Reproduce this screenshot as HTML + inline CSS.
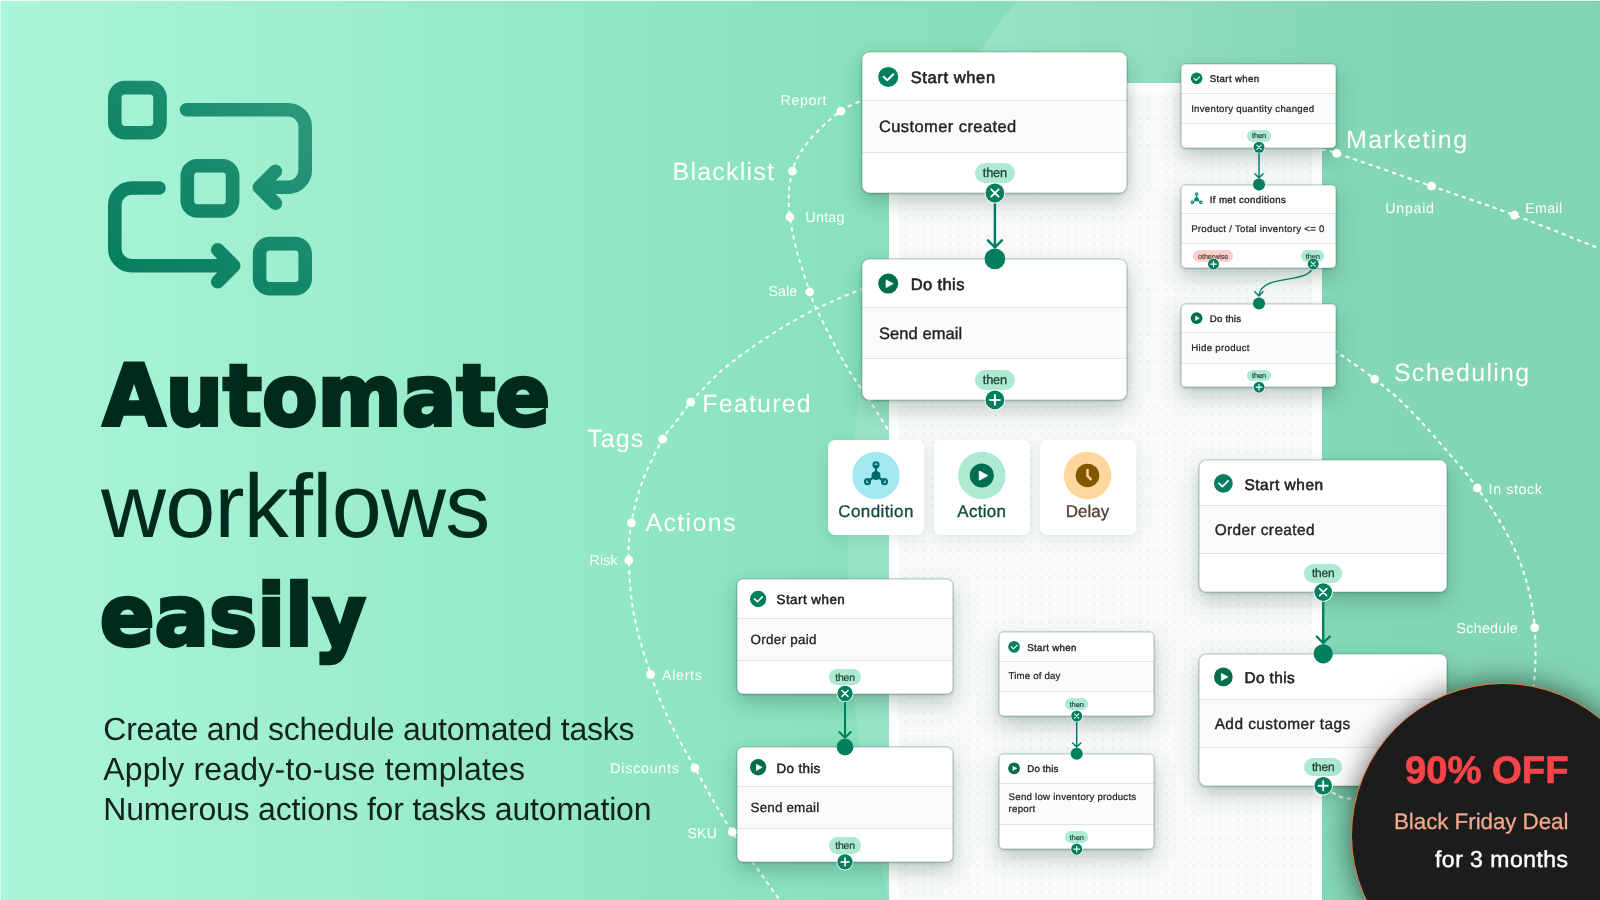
<!DOCTYPE html>
<html lang="en"><head><meta charset="utf-8"><title>Automate workflows easily</title>
<style>
html,body{margin:0;padding:0}
body{width:1600px;height:900px;overflow:hidden;position:relative;font-family:"Liberation Sans",sans-serif;background:#8ae2be}
#stage{position:absolute;left:0;top:0;width:1600px;height:900px;overflow:hidden;
 background:linear-gradient(90deg,#aaf5d9 0%,#9aedcb 25%,#8ae2be 50%,#84d9b6 75%,#82d5b3 100%)}
.t{position:absolute;white-space:nowrap;line-height:1;text-rendering:geometricPrecision;will-change:opacity}
svg{position:absolute;left:0;top:0;overflow:visible}
.panel{position:absolute;left:889px;top:83px;width:433px;height:830px;background:#fff}
.grid{position:absolute;left:10px;top:10px;right:10px;bottom:0;background-color:#f8fafa;
 background-image:radial-gradient(circle,#e4eae9 0.7px,rgba(228,234,233,0) 1.3px);background-size:9px 9px;background-position:2px 3px}
.card{position:absolute;background:#fff;box-shadow:0 0 0 .5px rgba(50,100,85,.34),0 1px 3px rgba(0,50,35,.22),0 9px 20px rgba(10,60,45,.25);overflow:hidden}
.card:after{content:'';position:absolute;left:0;top:0;right:0;bottom:0;border-radius:inherit;box-shadow:inset 0 0 0 .6px rgba(50,100,85,.34)}
.mid{position:absolute;left:0;right:0;background:#fafbfb;border-top:1px solid #e1e5e4;border-bottom:1px solid #e1e5e4;box-sizing:border-box}
.pill{position:absolute}
.tile{position:absolute;background:#fff;border-radius:7px;box-shadow:0 4px 14px rgba(0,50,35,.10)}
.badge{position:absolute;border-radius:50%;background:#1c1c1c;border:1.6px solid #f0773a;box-sizing:border-box;box-shadow:0 0 30px rgba(0,0,0,.6)}
</style></head><body><div id="stage">

<svg width="1600" height="900" viewBox="0 0 1600 900"><defs><linearGradient id="lg1" x1="0" y1="0" x2="1" y2="0"><stop offset="0" stop-color="#fff" stop-opacity=".17"/><stop offset=".3" stop-color="#fff" stop-opacity=".11"/><stop offset=".6" stop-color="#fff" stop-opacity="0"/></linearGradient><linearGradient id="lg2" x1="0" y1="0" x2="1" y2="0"><stop offset="0" stop-color="#fff" stop-opacity="0"/><stop offset="1" stop-color="#fff" stop-opacity=".16"/></linearGradient><linearGradient id="logo" gradientUnits="userSpaceOnUse" x1="108" y1="296" x2="312" y2="81"><stop offset="0" stop-color="#057c5b"/><stop offset=".5" stop-color="#15896a"/><stop offset="1" stop-color="#319b7e"/></linearGradient></defs><path d="M1019 0C1000 20 975 55 940 120L940 260L1600 260L1600 0Z" fill="url(#lg1)"/><path d="M889 290L874 290C860 370 848 470 848 580C848 700 868 820 889 900Z" fill="#fff" fill-opacity=".13"/></svg>
<svg width="1600" height="900" viewBox="0 0 1600 900"><path d="M866.7 98.2C862.4 100.4 849.4 105.3 840.9 111.1C832.4 117.0 822.4 126.3 815.6 133.3C808.7 140.4 803.9 147.0 800.0 153.3C796.1 159.6 794.3 164.4 792.4 171.1C790.6 177.8 789.3 185.7 788.9 193.3C788.4 201.0 788.7 208.0 789.8 216.9C790.9 225.8 793.5 238.0 795.6 246.7C797.6 255.3 799.9 261.3 802.2 268.9C804.6 276.4 807.5 285.5 809.8 292.0C812.1 298.5 812.6 300.7 816.0 308.0C819.4 315.3 825.2 326.7 830.0 336.0C834.8 345.3 840.0 355.5 845.0 364.0C850.0 372.5 856.0 381.0 860.0 387.0C864.0 393.0 865.8 395.2 869.0 400.0C872.2 404.8 875.5 410.1 879.0 415.5C882.5 420.9 888.2 429.7 890.0 432.5" fill="none" stroke="#fff" stroke-width="2" stroke-dasharray="4.2 4" stroke-linecap="butt"/><path d="M864.0 288.3C860.0 289.9 847.3 294.9 840.0 298.0C832.7 301.1 826.7 303.8 820.0 307.0C813.3 310.2 806.7 313.7 800.0 317.4C793.3 321.1 786.7 324.9 780.0 329.0C773.3 333.1 766.7 337.5 760.0 342.0C753.3 346.5 746.7 351.0 740.0 356.0C733.3 361.0 726.0 366.7 720.0 372.0C714.0 377.3 708.9 383.0 704.0 388.0C699.1 393.0 695.1 396.8 690.6 402.2C686.1 407.6 681.6 414.3 677.0 420.5C672.4 426.7 668.4 429.3 662.7 439.2C657.0 449.1 648.2 466.1 643.0 480.0C637.8 493.9 633.8 509.5 631.4 522.9C629.0 536.3 628.4 544.9 628.8 560.2C629.2 575.6 630.4 596.0 634.0 615.0C637.6 634.0 644.6 656.5 650.6 674.3C656.6 692.1 662.6 706.4 670.0 722.0C677.4 737.6 684.5 749.8 694.9 768.1C705.3 786.4 717.9 809.7 732.2 832.0C746.6 854.3 772.9 890.3 781.0 902.0" fill="none" stroke="#fff" stroke-width="2" stroke-dasharray="4.2 4" stroke-linecap="butt"/><path d="M1322.0 150.0C1324.5 150.6 1318.4 147.3 1336.7 153.3C1355.0 159.3 1402.0 175.9 1431.6 186.2C1461.2 196.5 1486.0 204.5 1514.4 215.1C1542.8 225.7 1587.4 243.8 1602.0 249.5" fill="none" stroke="#fff" stroke-width="2" stroke-dasharray="4.2 4" stroke-linecap="butt"/><path d="M1334.0 350.0C1340.8 354.9 1362.2 369.3 1374.7 379.1C1387.2 388.9 1396.5 396.5 1408.9 408.9C1421.3 421.3 1437.5 440.1 1448.9 453.3C1460.3 466.5 1467.7 474.7 1477.3 488.0C1486.9 501.3 1498.7 518.3 1506.7 533.3C1514.7 548.3 1520.6 562.1 1525.3 577.8C1530.0 593.5 1533.4 608.9 1534.7 627.6C1536.0 646.3 1536.3 667.9 1533.0 690.0C1529.7 712.1 1530.5 741.7 1515.0 760.0C1499.5 778.3 1466.7 793.5 1440.0 800.0C1413.3 806.5 1372.5 800.0 1355.0 799.0C1337.5 798.0 1340.3 796.2 1335.0 794.0C1329.7 791.8 1325.0 787.3 1323.0 786.0" fill="none" stroke="#fff" stroke-width="2" stroke-dasharray="4.2 4" stroke-linecap="butt"/></svg>
<div class="panel"><div class="grid"></div></div>
<span class="t" style="left:780.60px;top:94.00px;font-size:14.2px;color:#fff;letter-spacing:0.630px;">Report</span>
<span class="t" style="left:672.50px;top:160.00px;font-size:25px;color:#fff;letter-spacing:1.212px;">Blacklist</span>
<span class="t" style="left:805.50px;top:211.00px;font-size:14.2px;color:#fff;letter-spacing:0.262px;">Untag</span>
<span class="t" style="left:768.60px;top:285.00px;font-size:14.2px;color:#fff;letter-spacing:0.045px;">Sale</span>
<span class="t" style="left:702.30px;top:392.00px;font-size:25px;color:#fff;letter-spacing:1.192px;">Featured</span>
<span class="t" style="left:587.20px;top:427.00px;font-size:25px;color:#fff;letter-spacing:1.098px;">Tags</span>
<span class="t" style="left:645.60px;top:511.00px;font-size:25px;color:#fff;letter-spacing:1.302px;">Actions</span>
<span class="t" style="left:589.60px;top:554.00px;font-size:14.2px;color:#fff;letter-spacing:0.173px;">Risk</span>
<span class="t" style="left:662.00px;top:669.00px;font-size:14.2px;color:#fff;letter-spacing:0.717px;">Alerts</span>
<span class="t" style="left:610.30px;top:762.00px;font-size:14.2px;color:#fff;letter-spacing:0.784px;">Discounts</span>
<span class="t" style="left:687.60px;top:827.00px;font-size:14.2px;color:#fff;letter-spacing:0.067px;">SKU</span>
<span class="t" style="left:1345.90px;top:128.00px;font-size:25px;color:#fff;letter-spacing:1.426px;">Marketing</span>
<span class="t" style="left:1385.30px;top:202.00px;font-size:14.2px;color:#fff;letter-spacing:0.750px;">Unpaid</span>
<span class="t" style="left:1525.30px;top:202.00px;font-size:14.2px;color:#fff;letter-spacing:0.339px;">Email</span>
<span class="t" style="left:1393.90px;top:361.00px;font-size:25px;color:#fff;letter-spacing:1.289px;">Scheduling</span>
<span class="t" style="left:1488.60px;top:483.00px;font-size:14.2px;color:#fff;letter-spacing:0.621px;">In stock</span>
<span class="t" style="left:1456.60px;top:622.00px;font-size:14.2px;color:#fff;letter-spacing:0.286px;">Schedule</span>
<svg width="1600" height="900" viewBox="0 0 1600 900"><g><rect x="114.80" y="87.60" width="45.20" height="45.20" rx="10.2" fill="none" stroke="url(#logo)" stroke-width="13.6"/><rect x="187.30" y="165.80" width="45.30" height="45.20" rx="10.2" fill="none" stroke="url(#logo)" stroke-width="13.6"/><rect x="259.60" y="243.60" width="45.60" height="45.20" rx="10.2" fill="none" stroke="url(#logo)" stroke-width="13.6"/><path d="M186.5 109.7H288.2A17 17 0 0 1 305.2 126.7V170.2A17 17 0 0 1 288.2 187.2H259.6M275.4 171.2L259.4 187.2L275.4 203.2" fill="none" stroke="url(#logo)" stroke-width="13.6" stroke-linecap="round" stroke-linejoin="round"/><path d="M159 188H131.8A17 17 0 0 0 114.8 205V248.7A17 17 0 0 0 131.8 265.7H233.5M217.7 249.7L233.7 265.7L217.7 281.7" fill="none" stroke="url(#logo)" stroke-width="13.6" stroke-linecap="round" stroke-linejoin="round"/></g></svg>
<span class="t" style="left:103.00px;top:354.00px;font-size:84.5px;color:#012a1f;transform-origin:0 0;transform:scaleX(0.9505);font-weight:700;font-family:'DejaVu Sans','Liberation Sans',sans-serif;letter-spacing:0.5px;-webkit-text-stroke:4px #012a1f;">Automate</span>
<span class="t" style="left:101.00px;top:462.00px;font-size:90px;color:#012a1f;letter-spacing:-0.730px;">workflows</span>
<span class="t" style="left:100.40px;top:574.00px;font-size:84.5px;color:#012a1f;transform-origin:0 0;transform:scaleX(0.9477);font-weight:700;font-family:'DejaVu Sans','Liberation Sans',sans-serif;letter-spacing:0.5px;-webkit-text-stroke:4px #012a1f;">easily</span>
<span class="t" style="left:103.30px;top:713.00px;font-size:32px;color:#15231e;letter-spacing:-0.229px;">Create and schedule automated tasks</span>
<span class="t" style="left:103.30px;top:753.00px;font-size:32px;color:#15231e;letter-spacing:0.207px;">Apply ready-to-use templates</span>
<span class="t" style="left:103.30px;top:793.00px;font-size:32px;color:#15231e;letter-spacing:-0.187px;">Numerous actions for tasks automation</span>
<div class="tile" style="left:828px;top:439.8px;width:96px;height:95.4px"></div>
<div class="tile" style="left:933.8px;top:439.8px;width:96px;height:95.4px"></div>
<div class="tile" style="left:1039.5px;top:439.8px;width:96px;height:95.4px"></div>
<span class="t" style="left:838.25px;top:503.00px;font-size:17px;color:#12493f;letter-spacing:0.408px;-webkit-text-stroke:0.3px #12493f;">Condition</span>
<span class="t" style="left:957.30px;top:503.00px;font-size:17px;color:#0f4a38;letter-spacing:0.292px;-webkit-text-stroke:0.3px #0f4a38;">Action</span>
<span class="t" style="left:1065.75px;top:503.00px;font-size:17px;color:#563a2e;letter-spacing:0.007px;-webkit-text-stroke:0.3px #563a2e;">Delay</span>
<div class="card" style="left:862.20px;top:52.20px;width:265.00px;height:141.20px;border-radius:7.50px"><div class="mid" style="top:48.20px;height:52.40px"></div></div>
<span class="t" style="left:910.70px;top:70.00px;font-size:16.5px;color:#202223;letter-spacing:0.613px;-webkit-text-stroke:0.60px #202223;">Start when</span>
<span class="t" style="left:878.90px;top:119.00px;font-size:16.5px;color:#202223;letter-spacing:0.416px;-webkit-text-stroke:0.38px #202223;">Customer created</span>
<div class="pill" style="left:974.90px;top:163.10px;width:40.00px;height:20.00px;border-radius:10.00px;background:#aee9d1"></div>
<span class="t" style="left:982.82px;top:167.00px;font-size:12.8px;color:#1f4237;letter-spacing:-0.187px;-webkit-text-stroke:0.30px #1f4237;">then</span>
<div class="card" style="left:862.20px;top:258.90px;width:265.00px;height:141.20px;border-radius:7.50px"><div class="mid" style="top:48.20px;height:52.40px"></div></div>
<span class="t" style="left:910.70px;top:277.00px;font-size:16.5px;color:#202223;letter-spacing:0.392px;-webkit-text-stroke:0.60px #202223;">Do this</span>
<span class="t" style="left:878.90px;top:326.00px;font-size:16.5px;color:#202223;letter-spacing:0.075px;-webkit-text-stroke:0.38px #202223;">Send email</span>
<div class="pill" style="left:974.90px;top:369.80px;width:40.00px;height:20.00px;border-radius:10.00px;background:#aee9d1"></div>
<span class="t" style="left:982.82px;top:374.00px;font-size:12.8px;color:#1f4237;letter-spacing:-0.187px;-webkit-text-stroke:0.30px #1f4237;">then</span>
<div class="card" style="left:1199.00px;top:460.30px;width:248.04px;height:132.16px;border-radius:7.02px"><div class="mid" style="top:45.12px;height:49.05px"></div></div>
<span class="t" style="left:1244.40px;top:478.00px;font-size:15.444px;color:#202223;letter-spacing:0.557px;-webkit-text-stroke:0.56px #202223;">Start when</span>
<span class="t" style="left:1214.63px;top:523.00px;font-size:15.444px;color:#202223;letter-spacing:0.394px;-webkit-text-stroke:0.36px #202223;">Order created</span>
<div class="pill" style="left:1304.49px;top:564.10px;width:37.44px;height:18.72px;border-radius:9.36px;background:#aee9d1"></div>
<span class="t" style="left:1311.90px;top:567.00px;font-size:11.980800000000002px;color:#1f4237;letter-spacing:-0.175px;-webkit-text-stroke:0.28px #1f4237;">then</span>
<div class="card" style="left:1199.00px;top:653.77px;width:248.04px;height:132.16px;border-radius:7.02px"><div class="mid" style="top:45.12px;height:49.05px"></div></div>
<span class="t" style="left:1244.40px;top:671.00px;font-size:15.444px;color:#202223;letter-spacing:0.376px;-webkit-text-stroke:0.56px #202223;">Do this</span>
<span class="t" style="left:1214.63px;top:717.00px;font-size:15.444px;color:#202223;letter-spacing:0.437px;-webkit-text-stroke:0.36px #202223;">Add customer tags</span>
<div class="pill" style="left:1304.49px;top:757.57px;width:37.44px;height:18.72px;border-radius:9.36px;background:#aee9d1"></div>
<span class="t" style="left:1311.90px;top:761.00px;font-size:11.980800000000002px;color:#1f4237;letter-spacing:-0.175px;-webkit-text-stroke:0.28px #1f4237;">then</span>
<div class="card" style="left:737.00px;top:578.90px;width:215.71px;height:114.94px;border-radius:6.10px"><div class="mid" style="top:39.23px;height:42.65px"></div></div>
<span class="t" style="left:776.48px;top:593.00px;font-size:13.431px;color:#202223;letter-spacing:0.460px;-webkit-text-stroke:0.49px #202223;">Start when</span>
<span class="t" style="left:750.59px;top:633.00px;font-size:13.431px;color:#202223;letter-spacing:0.274px;-webkit-text-stroke:0.31px #202223;">Order paid</span>
<div class="pill" style="left:828.74px;top:669.17px;width:32.56px;height:16.28px;border-radius:8.14px;background:#aee9d1"></div>
<span class="t" style="left:835.18px;top:674.00px;font-size:10.4192px;color:#1f4237;letter-spacing:-0.152px;-webkit-text-stroke:0.24px #1f4237;">then</span>
<div class="card" style="left:737.00px;top:747.15px;width:215.71px;height:114.94px;border-radius:6.10px"><div class="mid" style="top:39.23px;height:42.65px"></div></div>
<span class="t" style="left:776.48px;top:762.00px;font-size:13.431px;color:#202223;letter-spacing:0.343px;-webkit-text-stroke:0.49px #202223;">Do this</span>
<span class="t" style="left:750.59px;top:801.00px;font-size:13.431px;color:#202223;letter-spacing:0.161px;-webkit-text-stroke:0.31px #202223;">Send email</span>
<div class="pill" style="left:828.74px;top:837.43px;width:32.56px;height:16.28px;border-radius:8.14px;background:#aee9d1"></div>
<span class="t" style="left:835.18px;top:842.00px;font-size:10.4192px;color:#1f4237;letter-spacing:-0.152px;-webkit-text-stroke:0.24px #1f4237;">then</span>
<div class="card" style="left:998.80px;top:632.30px;width:155.55px;height:83.94px;border-radius:4.40px"><div class="mid" style="top:28.82px;height:31.23px"></div></div>
<span class="t" style="left:1027.27px;top:644.00px;font-size:9.6855px;color:#202223;letter-spacing:0.310px;-webkit-text-stroke:0.35px #202223;">Start when</span>
<span class="t" style="left:1008.60px;top:672.00px;font-size:9.6855px;color:#202223;letter-spacing:0.160px;-webkit-text-stroke:0.22px #202223;">Time of day</span>
<div class="pill" style="left:1064.95px;top:698.45px;width:23.48px;height:11.74px;border-radius:5.87px;background:#aee9d1"></div>
<span class="t" style="left:1069.60px;top:701.00px;font-size:7.5136px;color:#1f4237;letter-spacing:-0.110px;-webkit-text-stroke:0.18px #1f4237;">then</span>
<div class="card" style="left:998.80px;top:753.81px;width:155.55px;height:95.45px;border-radius:4.40px"><div class="mid" style="top:28.82px;height:42.73px"></div></div>
<span class="t" style="left:1027.27px;top:765.00px;font-size:9.6855px;color:#202223;letter-spacing:0.151px;-webkit-text-stroke:0.35px #202223;">Do this</span>
<span class="t" style="left:1008.60px;top:793.00px;font-size:9.6855px;color:#202223;letter-spacing:0.234px;-webkit-text-stroke:0.22px #202223;">Send low inventory products</span>
<span class="t" style="left:1008.60px;top:805.00px;font-size:9.6855px;color:#202223;letter-spacing:0.266px;-webkit-text-stroke:0.22px #202223;">report</span>
<div class="pill" style="left:1064.95px;top:831.47px;width:23.48px;height:11.74px;border-radius:5.87px;background:#aee9d1"></div>
<span class="t" style="left:1069.60px;top:834.00px;font-size:7.5136px;color:#1f4237;letter-spacing:-0.110px;-webkit-text-stroke:0.18px #1f4237;">then</span>
<div class="card" style="left:1181.40px;top:63.90px;width:155.02px;height:83.66px;border-radius:4.39px"><div class="mid" style="top:28.72px;height:31.12px"></div></div>
<span class="t" style="left:1209.77px;top:75.00px;font-size:9.6525px;color:#202223;letter-spacing:0.366px;-webkit-text-stroke:0.35px #202223;">Start when</span>
<span class="t" style="left:1191.17px;top:105.00px;font-size:9.6525px;color:#202223;letter-spacing:0.284px;-webkit-text-stroke:0.22px #202223;">Inventory quantity changed</span>
<div class="pill" style="left:1247.33px;top:129.83px;width:23.40px;height:11.70px;border-radius:5.85px;background:#aee9d1"></div>
<span class="t" style="left:1251.96px;top:132.00px;font-size:7.4879999999999995px;color:#1f4237;letter-spacing:-0.109px;-webkit-text-stroke:0.18px #1f4237;">then</span>
<div class="card" style="left:1181.40px;top:184.60px;width:155.02px;height:83.66px;border-radius:4.39px"><div class="mid" style="top:28.72px;height:31.12px"></div></div>
<span class="t" style="left:1209.77px;top:196.00px;font-size:9.6525px;color:#202223;letter-spacing:0.366px;-webkit-text-stroke:0.35px #202223;">If met conditions</span>
<span class="t" style="left:1191.17px;top:225.00px;font-size:9.6525px;color:#202223;letter-spacing:0.277px;-webkit-text-stroke:0.22px #202223;">Product / Total inventory &lt;= 0</span>
<div class="card" style="left:1181.40px;top:303.70px;width:155.02px;height:83.66px;border-radius:4.39px"><div class="mid" style="top:28.72px;height:31.12px"></div></div>
<span class="t" style="left:1209.77px;top:315.00px;font-size:9.6525px;color:#202223;letter-spacing:0.208px;-webkit-text-stroke:0.35px #202223;">Do this</span>
<span class="t" style="left:1191.17px;top:344.00px;font-size:9.6525px;color:#202223;letter-spacing:0.339px;-webkit-text-stroke:0.22px #202223;">Hide product</span>
<div class="pill" style="left:1247.33px;top:369.63px;width:23.40px;height:11.70px;border-radius:5.85px;background:#aee9d1"></div>
<span class="t" style="left:1251.96px;top:372.00px;font-size:7.4879999999999995px;color:#1f4237;letter-spacing:-0.109px;-webkit-text-stroke:0.18px #1f4237;">then</span>
<div class="pill" style="left:1193.02px;top:250.41px;width:40.36px;height:11.70px;border-radius:5.85px;background:#fbd0cc"></div>
<span class="t" style="left:1198.02px;top:253.00px;font-size:7.3125px;color:#5a3a36;letter-spacing:-0.104px;-webkit-text-stroke:0.18px #5a3a36;">otherwise</span>
<div class="pill" style="left:1301.10px;top:250.41px;width:23.40px;height:11.70px;border-radius:5.85px;background:#aee9d1"></div>
<span class="t" style="left:1305.73px;top:253.00px;font-size:7.4879999999999995px;color:#1f4237;letter-spacing:-0.109px;-webkit-text-stroke:0.18px #1f4237;">then</span>
<svg width="1600" height="900" viewBox="0 0 1600 900"><circle cx="840.9" cy="111.1" r="4.4" fill="#fff"/><circle cx="792.4" cy="171.1" r="4.4" fill="#fff"/><circle cx="789.8" cy="216.9" r="4.4" fill="#fff"/><circle cx="809.8" cy="292.0" r="4.4" fill="#fff"/><circle cx="690.6" cy="402.2" r="4.4" fill="#fff"/><circle cx="662.7" cy="439.2" r="4.4" fill="#fff"/><circle cx="631.4" cy="522.9" r="4.4" fill="#fff"/><circle cx="628.8" cy="560.2" r="4.4" fill="#fff"/><circle cx="650.6" cy="674.3" r="4.4" fill="#fff"/><circle cx="694.9" cy="768.1" r="4.4" fill="#fff"/><circle cx="732.2" cy="832.0" r="4.4" fill="#fff"/><circle cx="1336.7" cy="153.3" r="4.4" fill="#fff"/><circle cx="1431.6" cy="186.2" r="4.4" fill="#fff"/><circle cx="1514.4" cy="215.1" r="4.4" fill="#fff"/><circle cx="1374.7" cy="379.1" r="4.4" fill="#fff"/><circle cx="1477.3" cy="488.0" r="4.4" fill="#fff"/><circle cx="1534.7" cy="627.6" r="4.4" fill="#fff"/><circle cx="876" cy="475.5" r="23.8" fill="#a4e8f2"/><line x1="876.00" y1="475.50" x2="876.00" y2="464.80" stroke="#006a68" stroke-width="2.20"/><line x1="876.00" y1="475.50" x2="867.50" y2="481.60" stroke="#006a68" stroke-width="2.20"/><line x1="876.00" y1="475.50" x2="884.50" y2="481.60" stroke="#006a68" stroke-width="2.20"/><circle cx="876.00" cy="475.50" r="4.50" fill="#006a68"/><circle cx="876.00" cy="464.80" r="2.55" fill="none" stroke="#006a68" stroke-width="2.10"/><circle cx="867.50" cy="481.60" r="2.55" fill="none" stroke="#006a68" stroke-width="2.10"/><circle cx="884.50" cy="481.60" r="2.55" fill="none" stroke="#006a68" stroke-width="2.10"/><circle cx="981.8" cy="475.5" r="23.8" fill="#aee9d1"/><circle cx="981.80" cy="475.50" r="12.00" fill="#006e52"/><polygon points="979.28,471.06 979.28,480.18 987.68,475.62" fill="#fff" stroke="#fff" stroke-width="0.96" stroke-linejoin="round"/><circle cx="1087.5" cy="475.5" r="23.8" fill="#ffd79d"/><circle cx="1087.5" cy="475.5" r="11.8" fill="#7e5700"/><path d="M1087.5 469.1V475.9L1091.4 479.9" fill="none" stroke="#ffd79d" stroke-width="2.4" stroke-linejoin="miter"/><circle cx="888.20" cy="76.90" r="10.00" fill="#007f5f"/><polyline points="883.60,76.80 887.20,80.30 893.30,74.30" fill="none" stroke="#fff" stroke-width="1.90" stroke-linecap="round" stroke-linejoin="round"/><circle cx="888.20" cy="283.60" r="10.00" fill="#006e47"/><polygon points="886.10,279.90 886.10,287.50 893.10,283.70" fill="#fff" stroke="#fff" stroke-width="0.80" stroke-linejoin="round"/><path d="M994.90 193.40V247.40M987.90 240.40L994.90 247.40L1001.90 240.40" fill="none" stroke="#007f5f" stroke-width="2.50" stroke-linecap="round" stroke-linejoin="round"/><circle cx="994.90" cy="193.00" r="10.38" fill="#fff"/><circle cx="994.90" cy="193.00" r="9.40" fill="#007f5f"/><path d="M991.18 189.28L998.62 196.72M998.62 189.28L991.18 196.72" stroke="#fff" stroke-width="1.76" stroke-linecap="round"/><circle cx="994.90" cy="258.90" r="10.30" fill="#007f5f"/><circle cx="994.90" cy="399.90" r="10.38" fill="#fff"/><circle cx="994.90" cy="399.90" r="9.40" fill="#007f5f"/><path d="M990.00 399.90H999.80M994.90 395.00V404.80" stroke="#fff" stroke-width="1.96" stroke-linecap="round"/><circle cx="1223.34" cy="483.42" r="9.36" fill="#007f5f"/><polyline points="1219.03,483.33 1222.40,486.60 1228.11,480.99" fill="none" stroke="#fff" stroke-width="1.78" stroke-linecap="round" stroke-linejoin="round"/><circle cx="1223.34" cy="676.89" r="9.36" fill="#006e47"/><polygon points="1221.37,673.43 1221.37,680.54 1227.92,676.98" fill="#fff" stroke="#fff" stroke-width="0.75" stroke-linejoin="round"/><path d="M1323.21 592.46V643.01M1316.66 636.46L1323.21 643.01L1329.76 636.46" fill="none" stroke="#007f5f" stroke-width="2.34" stroke-linecap="round" stroke-linejoin="round"/><circle cx="1323.21" cy="592.09" r="9.71" fill="#fff"/><circle cx="1323.21" cy="592.09" r="8.80" fill="#007f5f"/><path d="M1319.72 588.61L1326.69 595.57M1326.69 588.61L1319.72 595.57" stroke="#fff" stroke-width="1.65" stroke-linecap="round"/><circle cx="1323.21" cy="653.77" r="9.64" fill="#007f5f"/><circle cx="1323.21" cy="785.75" r="9.71" fill="#fff"/><circle cx="1323.21" cy="785.75" r="8.80" fill="#007f5f"/><path d="M1318.62 785.75H1327.79M1323.21 781.16V790.33" stroke="#fff" stroke-width="1.83" stroke-linecap="round"/><circle cx="758.16" cy="599.01" r="8.14" fill="#007f5f"/><polyline points="754.42,598.92 757.35,601.77 762.32,596.89" fill="none" stroke="#fff" stroke-width="1.55" stroke-linecap="round" stroke-linejoin="round"/><circle cx="758.16" cy="767.26" r="8.14" fill="#006e47"/><polygon points="756.45,764.25 756.45,770.43 762.15,767.34" fill="#fff" stroke="#fff" stroke-width="0.65" stroke-linejoin="round"/><path d="M845.02 693.84V737.79M839.32 732.09L845.02 737.79L850.72 732.09" fill="none" stroke="#007f5f" stroke-width="2.03" stroke-linecap="round" stroke-linejoin="round"/><circle cx="845.02" cy="693.51" r="8.45" fill="#fff"/><circle cx="845.02" cy="693.51" r="7.65" fill="#007f5f"/><path d="M841.99 690.48L848.05 696.54M848.05 690.48L841.99 696.54" stroke="#fff" stroke-width="1.43" stroke-linecap="round"/><circle cx="845.02" cy="747.15" r="8.38" fill="#007f5f"/><circle cx="845.02" cy="861.93" r="8.45" fill="#fff"/><circle cx="845.02" cy="861.93" r="7.65" fill="#007f5f"/><path d="M841.03 861.93H849.00M845.02 857.94V865.91" stroke="#fff" stroke-width="1.59" stroke-linecap="round"/><circle cx="1014.06" cy="646.80" r="5.87" fill="#007f5f"/><polyline points="1011.36,646.74 1013.47,648.79 1017.06,645.27" fill="none" stroke="#fff" stroke-width="1.12" stroke-linecap="round" stroke-linejoin="round"/><circle cx="1014.06" cy="768.31" r="5.87" fill="#006e47"/><polygon points="1012.83,766.14 1012.83,770.60 1016.94,768.37" fill="#fff" stroke="#fff" stroke-width="0.47" stroke-linejoin="round"/><path d="M1076.69 716.24V747.06M1072.59 742.95L1076.69 747.06L1080.80 742.95" fill="none" stroke="#007f5f" stroke-width="1.47" stroke-linecap="round" stroke-linejoin="round"/><circle cx="1076.69" cy="716.01" r="6.09" fill="#fff"/><circle cx="1076.69" cy="716.01" r="5.52" fill="#007f5f"/><path d="M1074.51 713.82L1078.88 718.19M1078.88 713.82L1074.51 718.19" stroke="#fff" stroke-width="1.03" stroke-linecap="round"/><circle cx="1076.69" cy="753.81" r="6.05" fill="#007f5f"/><circle cx="1076.69" cy="849.14" r="6.09" fill="#fff"/><circle cx="1076.69" cy="849.14" r="5.52" fill="#007f5f"/><path d="M1073.82 849.14H1079.57M1076.69 846.26V852.01" stroke="#fff" stroke-width="1.15" stroke-linecap="round"/><circle cx="1196.61" cy="78.35" r="5.85" fill="#007f5f"/><polyline points="1193.92,78.29 1196.03,80.34 1199.59,76.83" fill="none" stroke="#fff" stroke-width="1.11" stroke-linecap="round" stroke-linejoin="round"/><line x1="1196.61" y1="199.34" x2="1196.61" y2="193.96" stroke="#008a6a" stroke-width="1.11"/><line x1="1196.61" y1="199.34" x2="1192.33" y2="202.41" stroke="#008a6a" stroke-width="1.11"/><line x1="1196.61" y1="199.34" x2="1200.89" y2="202.41" stroke="#008a6a" stroke-width="1.11"/><circle cx="1196.61" cy="199.34" r="2.26" fill="#008a6a"/><circle cx="1196.61" cy="193.96" r="1.28" fill="none" stroke="#008a6a" stroke-width="1.06"/><circle cx="1192.33" cy="202.41" r="1.28" fill="none" stroke="#008a6a" stroke-width="1.06"/><circle cx="1200.89" cy="202.41" r="1.28" fill="none" stroke="#008a6a" stroke-width="1.06"/><circle cx="1196.61" cy="318.15" r="5.85" fill="#006e47"/><polygon points="1195.38,315.99 1195.38,320.43 1199.48,318.21" fill="#fff" stroke="#fff" stroke-width="0.47" stroke-linejoin="round"/><path d="M1259.03 147.56V177.87M1254.93 173.78L1259.03 177.87L1263.12 173.78" fill="none" stroke="#007f5f" stroke-width="1.46" stroke-linecap="round" stroke-linejoin="round"/><circle cx="1259.03" cy="147.25" r="6.07" fill="#fff"/><circle cx="1259.03" cy="147.25" r="5.50" fill="#007f5f"/><path d="M1256.85 145.08L1261.21 149.43M1261.21 145.08L1256.85 149.43" stroke="#fff" stroke-width="1.03" stroke-linecap="round"/><circle cx="1259.03" cy="184.60" r="6.03" fill="#007f5f"/><circle cx="1213.50" cy="264.10" r="6.07" fill="#fff"/><circle cx="1213.50" cy="264.10" r="5.50" fill="#007f5f"/><path d="M1210.64 264.10H1216.36M1213.50 261.24V266.96" stroke="#fff" stroke-width="1.15" stroke-linecap="round"/><path d="M1313.2 264C1313.5 286 1262 272 1258.9 295.5M1254.81 291.70L1258.9 296L1263.00 291.70" fill="none" stroke="#007f5f" stroke-width="1.4" stroke-linecap="round" stroke-linejoin="round"/><circle cx="1313.20" cy="264.10" r="6.07" fill="#fff"/><circle cx="1313.20" cy="264.10" r="5.50" fill="#007f5f"/><path d="M1311.02 261.92L1315.38 266.28M1315.38 261.92L1311.02 266.28" stroke="#fff" stroke-width="1.03" stroke-linecap="round"/><circle cx="1259.00" cy="303.50" r="6.03" fill="#007f5f"/><circle cx="1259.03" cy="387.16" r="6.07" fill="#fff"/><circle cx="1259.03" cy="387.16" r="5.50" fill="#007f5f"/><path d="M1256.17 387.16H1261.89M1259.03 384.29V390.02" stroke="#fff" stroke-width="1.15" stroke-linecap="round"/></svg>
<div class="badge" style="left:1351px;top:683px;width:304px;height:304px"></div>
<span class="t" style="left:1405.00px;top:752.00px;font-size:38.3px;color:#f94449;font-weight:700;letter-spacing:-0.054px;-webkit-text-stroke:0.7px #f94449;">90% OFF</span>
<span class="t" style="left:1394.00px;top:811.00px;font-size:22.4px;color:#f5a98a;letter-spacing:-0.060px;-webkit-text-stroke:0.25px #f5a98a;">Black Friday Deal</span>
<span class="t" style="left:1435.00px;top:848.00px;font-size:23px;color:#fff;letter-spacing:0.472px;-webkit-text-stroke:0.45px #fff;">for 3 months</span>
<div style="position:absolute;left:0;top:0;width:1600px;height:1px;background:rgba(255,255,255,.75)"></div><div style="position:absolute;left:0;top:0;width:1px;height:900px;background:rgba(255,255,255,.6)"></div>
</div></body></html>
